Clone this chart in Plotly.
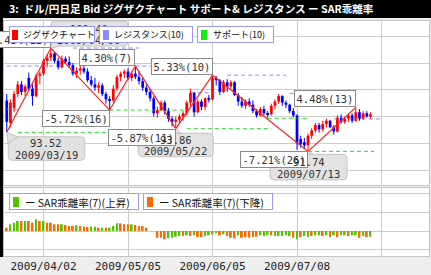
import plotly.graph_objects as go
import pandas as pd

# ---------------- data ----------------
trade_days = [d.strftime("%Y/%m/%d") for d in pd.bdate_range("2009-03-19", "2009-08-26")]


def di(s):
    return trade_days.index(s)


opens = [96.5, 94.4, 95.8, 97.1, 98.0, 97.3, 98.6, 97.6, 96.9, 98.8,
         99.0, 100.2, 100.5, 100.9, 100.2, 99.6, 100.4, 100.1, 99.8, 99.0,
         99.3, 99.5, 99.2, 98.4, 98.0, 97.7, 97.9, 97.1, 96.6, 96.5,
         97.6, 98.7, 99.0, 99.2, 98.6, 99.0, 98.7, 98.3, 97.7, 97.3,
         96.7, 95.3, 95.6, 96.3, 95.5, 94.8, 94.5, 94.7, 95.0, 95.3,
         96.3, 97.2, 95.4, 96.4, 95.9, 96.7, 96.6, 98.6, 98.4, 97.3,
         98.2, 97.8, 98.2, 97.0, 96.4, 96.0, 96.4, 96.1, 95.5, 95.1,
         95.7, 95.3, 95.2, 96.0, 96.4, 96.9, 96.3, 96.1, 95.5, 95.1,
         92.9, 92.6, 92.3, 93.2, 93.7, 94.2, 93.8, 94.3, 94.6, 94.0,
         93.6, 94.9, 94.5, 94.8, 95.1, 94.6, 95.4, 94.8, 95.3, 95.0]
highs = [97.1, 96.6, 97.4, 98.3, 98.3, 98.0, 99.1, 98.0, 99.0, 99.2,
         100.4, 100.8, 101.40, 101.0, 100.5, 100.7, 100.6, 100.6, 100.0, 99.6,
         99.9, 99.8, 99.5, 98.8, 98.6, 98.2, 98.1, 97.3, 96.9, 97.9,
         98.9, 99.2, 99.4, 99.5, 99.2, 99.71, 99.2, 98.6, 98.0, 97.6,
         96.9, 95.9, 96.5, 96.5, 95.8, 95.0, 95.0, 95.2, 95.5, 96.5,
         97.6, 97.3, 96.6, 96.6, 96.8, 97.0, 98.86, 98.8, 98.5, 98.4,
         98.5, 98.4, 98.3, 97.2, 96.8, 96.6, 96.7, 96.5, 95.7, 95.9,
         96.0, 95.5, 96.2, 96.6, 97.1, 97.0, 96.5, 96.2, 95.8, 95.2,
         93.2, 93.0, 93.4, 93.9, 94.4, 94.4, 94.6, 94.8, 94.7, 94.2,
         95.1, 95.2, 95.0, 95.3, 95.3, 95.85, 95.7, 95.5, 95.5, 95.4]
lows = [93.52, 94.0, 95.4, 96.8, 97.0, 96.9, 97.4, 96.0, 96.8, 98.0,
        98.8, 99.6, 100.2, 100.0, 99.4, 99.5, 99.9, 99.6, 98.8, 98.6,
        98.9, 99.0, 98.2, 97.8, 97.4, 97.2, 96.9, 96.2, 95.60, 96.3,
        97.4, 98.3, 98.6, 98.4, 98.3, 98.5, 98.0, 97.4, 97.0, 96.4,
        95.0, 94.9, 95.5, 95.2, 94.5, 94.1, 93.86, 94.4, 94.6, 95.1,
        96.0, 95.0, 95.3, 95.6, 95.6, 96.3, 96.5, 97.9, 97.0, 97.2,
        97.3, 97.6, 96.9, 96.0, 95.8, 95.7, 95.9, 95.3, 94.9, 95.0,
        95.1, 94.9, 95.1, 95.7, 96.2, 96.0, 95.8, 95.3, 94.9, 91.9,
        92.1, 92.0, 91.74, 92.9, 93.5, 93.5, 93.6, 94.0, 93.9, 93.3,
        93.5, 94.3, 94.3, 94.5, 94.4, 94.5, 94.6, 94.7, 94.9, 94.8]
closes = [94.5, 96.3, 97.1, 98.0, 97.3, 97.8, 97.6, 96.9, 98.8, 99.0,
          100.2, 100.5, 100.9, 100.2, 99.6, 100.4, 100.1, 99.8, 99.0, 99.3,
          99.5, 99.2, 98.4, 98.0, 97.7, 97.9, 97.1, 96.6, 96.5, 97.6,
          98.7, 99.0, 99.2, 98.6, 99.0, 98.7, 98.3, 97.7, 97.3, 96.7,
          95.3, 95.6, 96.3, 95.5, 94.8, 94.5, 94.7, 95.0, 95.3, 96.3,
          97.2, 95.4, 96.4, 95.9, 96.7, 96.6, 98.6, 98.4, 97.3, 98.2,
          97.8, 98.2, 97.0, 96.4, 96.0, 96.4, 96.1, 95.5, 95.1, 95.7,
          95.3, 95.2, 96.0, 96.4, 96.9, 96.3, 96.1, 95.5, 95.1, 92.5,
          92.4, 92.3, 93.2, 93.7, 94.2, 93.8, 94.3, 94.6, 94.0, 93.6,
          94.9, 94.5, 94.8, 95.1, 94.6, 95.4, 94.8, 95.3, 95.0, 95.2]

# zigzag turning points
zz_dates = ["2009/03/19", "2009/04/06", "2009/04/28", "2009/05/07",
            "2009/05/22", "2009/06/05", "2009/07/13", "2009/07/30"]
zz_prices = [93.52, 101.40, 95.60, 99.71, 93.86, 98.86, 91.74, 95.85]
zz_labels = ["8.43%(12)", "-5.72%(16)", "4.30%(7)", "-5.87%(11)",
             "5.33%(10)", "-7.21%(26)", "4.48%(13)"]

# resistance (10)
res_start = ["2009/03/19", "2009/04/14", "2009/05/07", "2009/05/28",
             "2009/06/11", "2009/07/06", "2009/07/22"]
res_end = ["2009/04/08", "2009/05/08", "2009/06/05", "2009/06/08",
           "2009/07/03", "2009/07/14", "2009/08/10"]
res_level = [99.72, 101.40, 99.71, 97.22, 98.86, 97.17, 94.77]

# support (10)
sup_start = ["2009/03/19", "2009/03/24", "2009/04/28", "2009/05/27",
             "2009/06/26", "2009/07/13"]
sup_end = ["2009/03/24", "2009/04/28", "2009/05/28", "2009/06/29",
           "2009/07/13", "2009/08/06"]
sup_level = [95.67, 93.52, 95.60, 93.86, 94.83, 91.74]

# SAR deviation (7), %  and direction (1 = rising / 0 = falling)
sar_pct = [0.35, 0.72, 0.89, 1.07, 1.07, 1.07, 1.07, 0.89, 1.25, 1.07,
           1.07, 0.89, 0.89, 0.72, 0.72, 0.72, 0.64, 0.53, 0.53, 0.61,
           0.53, 0.46, 0.43, 0.46, 0.46, 0.35, 0.35, 0.35, 0.35, 0.53,
           0.82, 0.82, 0.72, 0.72, 0.72, 0.64, 0.53, 0.53, 0.35, 0.0,
           0.0, -0.72, -0.72, -0.89, -0.78, -0.72, -0.61, -0.53, -0.53, -0.46,
           -0.53, -0.46, -0.64, -0.64, -0.53, -0.46, -0.35, -0.18, -0.46, -0.35,
           -0.53, -0.72, -0.78, -0.46, -0.72, -0.64, -0.72, -0.64, -0.61, -0.46,
           -0.53, -0.46, -0.46, -0.53, -0.53, -0.53, -0.46, -0.53, -0.72, -0.89,
           -0.64, -0.53, -0.61, -0.53, -0.46, -0.46, -0.53, -0.46, -0.64, -0.46,
           -0.64, -0.46, -0.46, -0.53, -0.46, -0.46, -0.72, -0.53, -0.64, -0.61]
sar_up = [0, 1, 1, 1, 0, 1, 0, 0, 1, 0,
          1, 0, 0, 0, 0, 1, 0, 0, 0, 1,
          0, 0, 0, 1, 1, 0, 1, 0, 1, 1,
          1, 0, 0, 0, 1, 0, 0, 0, 0, 0,
          0, 0, 0, 0, 1, 1, 1, 1, 0, 1,
          0, 1, 0, 0, 1, 1, 1, 1, 0, 1,
          0, 0, 0, 1, 0, 0, 0, 0, 0, 1,
          1, 1, 0, 1, 1, 1, 1, 1, 0, 1,
          0, 1, 1, 0, 1, 1, 0, 1, 0, 1,
          0, 1, 1, 0, 1, 1, 0, 1, 0, 1]

grid_dates = ["2009/04/02", "2009/05/05", "2009/06/05", "2009/07/08", "2009/08/10"]
grid_text = ["2009/04/02", "2009/05/05", "2009/06/05", "2009/07/08", ""]
price_grid = [90, 92.5, 95, 97.5, 100, 102.5]
sar_grid = [-2, 0, 2, 4]

# ---------------- styling helpers ----------------
W, H = 431, 275
ML, MR, MT, MB = 4, 2, 21, 19
PW, PH = W - ML - MR, H - MT - MB
MONO = "DejaVu Sans Mono"
JP = "Noto Sans CJK JP"


def px_x(x):
    return (x - ML) / PW


def px_y(y):
    return (H - MB - y) / PH


RED, BLUE = "#ff0000", "#0000ff"
GREEN_BAR, ORANGE_BAR = "#55c400", "#ff6a00"

fig = go.Figure()

n = len(opens)
xi = list(range(n))


def seg_lists(starts, ends, levels):
    xs, ys = [], []
    for s, e, lv in zip(starts, ends, levels):
        xs += [di(s), di(e), None]
        ys += [lv, lv, None]
    return xs, ys


rx, ry = seg_lists(res_start, res_end, res_level)
fig.add_trace(go.Scatter(x=rx, y=ry, mode="lines", xaxis="x", yaxis="y",
                         line=dict(color="#8c8cf5", width=1, dash="4px,3px")))
sx, sy = seg_lists(sup_start, sup_end, sup_level)
fig.add_trace(go.Scatter(x=sx, y=sy, mode="lines", xaxis="x", yaxis="y",
                         line=dict(color="#22dd22", width=1, dash="4px,3px")))

# candles: wicks and bodies
for up, col in ((True, RED), (False, BLUE)):
    wx, wy = [], []
    bx, bb, bh = [], [], []
    for i in xi:
        if (closes[i] >= opens[i]) == up:
            wx += [i, i, None]
            wy += [lows[i], highs[i], None]
            bx.append(i)
            bb.append(min(opens[i], closes[i]))
            bh.append(max(abs(closes[i] - opens[i]), 0.06))
    fig.add_trace(go.Scatter(x=wx, y=wy, mode="lines", xaxis="x", yaxis="y",
                             line=dict(color=col, width=1)))
    fig.add_trace(go.Bar(x=bx, y=bh, base=bb, width=0.75, xaxis="x", yaxis="y",
                         marker=dict(color=col, line=dict(width=0))))

# zigzag
zx = [di(d) for d in zz_dates]
fig.add_trace(go.Scatter(x=zx, y=zz_prices, mode="lines", xaxis="x", yaxis="y",
                         line=dict(color="#ff2020", width=1.2)))

# SAR bars
for flag, col in ((1, GREEN_BAR), (0, ORANGE_BAR)):
    bx = [i for i in xi if sar_up[i] == flag]
    by = [sar_pct[i] for i in bx]
    fig.add_trace(go.Bar(x=bx, y=by, base=0, width=0.5, xaxis="x2", yaxis="y2",
                         marker=dict(color=col, line=dict(width=0))))

# ---------------- shapes ----------------
shapes = []
# title bar & left strip
shapes.append(dict(type="rect", xref="paper", yref="paper", x0=px_x(0), x1=px_x(W),
                   y0=px_y(18), y1=px_y(0), fillcolor="#000000", line=dict(width=0), layer="above"))
shapes.append(dict(type="rect", xref="paper", yref="paper", x0=px_x(0), x1=px_x(3),
                   y0=px_y(257), y1=px_y(0), fillcolor="#000000", line=dict(width=0), layer="above"))


def rrect(x0, x1, y0, y1, r=4):
    return (f"M{x0+r},{y0} L{x1-r},{y0} Q{x1},{y0} {x1},{y0+r} L{x1},{y1-r} Q{x1},{y1} {x1-r},{y1} "
            f"L{x0+r},{y1} Q{x0},{y1} {x0},{y1-r} L{x0},{y0+r} Q{x0},{y0} {x0+r},{y0} Z")


# callouts: (date, price, box in px relative to the point (y up), pointer path,
#            text xshift, line1 yshift, line2 yshift)
callouts = [
    ("2009/03/19", 93.52, (1.5, 78, -28, -4.5), "M0,0 L1.5,-11 L11,-4.5 Z", 39.5, -11, -22.5),
    ("2009/04/06", 101.40, (0, 77, 2, 27), "M0,0 L1,10 L10,2 Z", 38, 19, 8),
    ("2009/05/22", 93.86, (-37.5, 37.5, -28, -4.5), "M0,0 L-5,-4.5 L5,-4.5 Z", 0, -11, -22.5),
    ("2009/07/13", 91.74, (-38, 39, -28.5, -3), "M0,0 L-5,-3 L5,-3 Z", 0.5, -11, -22.5),
]
for d, p, (bx0, bx1, by0, by1), tip, *_ in callouts:
    for path in (rrect(bx0, bx1, by0, by1), tip):
        shapes.append(dict(type="path", xref="x", yref="y", xsizemode="pixel", ysizemode="pixel",
                           xanchor=di(d), yanchor=p, path=path, fillcolor="#e2e2e2",
                           line=dict(color="#c2c2c2", width=1), layer="above"))

# ---------------- annotations ----------------
ann = []
# percent labels
for k, lab in enumerate(zz_labels, start=1):
    rising = zz_prices[k] > zz_prices[k - 1]
    ann.append(dict(x=di(zz_dates[k]), y=zz_prices[k], xref="x", yref="y", text=lab,
                    showarrow=False, xanchor="right", yanchor="bottom" if rising else "top",
                    font=dict(family=MONO, size=10.5, color="#333333"), bgcolor="#ffffff",
                    bordercolor="#8a8a8a", borderwidth=1, borderpad=1.5))
# callout texts
for d, p, box, tip, xs, y1s, y2s in callouts:
    for txt, ys in ((f"{p:.2f}", y1s), (d, y2s)):
        ann.append(dict(x=di(d), y=p, xref="x", yref="y", text=txt, showarrow=False,
                        xshift=xs, yshift=ys, xanchor="center", yanchor="middle",
                        font=dict(family=MONO, size=10.5, color="#333333")))

# legend boxes (box x0, x1, y0, y1, square x0, text x, color, label, font size)
legend_items = [
    (9.3, 95, 26, 43.3, 12.3, 20.7, "#ff0000", "ジグザクチャート", 9),
    (99, 193, 26, 43.3, 103.3, 111.7, "#8c8cf5", "レジスタンス(10)", 9),
    (197, 274, 26, 43.3, 201.3, 210.7, "#11ee11", "サポート(10)", 9),
    (9.3, 139.3, 193.3, 210.7, 13.3, 22.7, GREEN_BAR, "ー SAR乖離率(7)(上昇)", 10.5),
    (143.3, 273.3, 193.3, 210.7, 147.3, 156.7, ORANGE_BAR, "ー SAR乖離率(7)(下降)", 10.5),
]
for x0, x1, y0, y1, sq, tx, col, lab, fs in legend_items:
    ann.append(dict(x=px_x(x0), y=px_y(y0), xref="paper", yref="paper", xanchor="left",
                    yanchor="top", text=" ", showarrow=False, width=x1 - x0 - 2,
                    height=y1 - y0 - 2, borderpad=0, bgcolor="#ffffff",
                    bordercolor="#9a9af2", borderwidth=1))
    ym = (y0 + y1) / 2
    ann.append(dict(x=px_x(sq), y=px_y(ym), xref="paper", yref="paper", xanchor="left",
                    yanchor="middle", text=" ", showarrow=False, width=6, height=10,
                    borderpad=0, borderwidth=0, bgcolor=col))
    ann.append(dict(x=px_x(tx), y=px_y(ym), xref="paper", yref="paper", xanchor="left",
                    yanchor="middle", text=lab, showarrow=False,
                    font=dict(family=JP, size=fs, color="#111111")))

# title
ann.append(dict(x=px_x(7), y=px_y(9), xref="paper", yref="paper", xanchor="left",
                yanchor="middle", showarrow=False,
                text="<b>3:  ドル/円日足 Bid ジグザクチャート サポート& レジスタンス ー SAR乖離率</b>",
                font=dict(family=JP, size=10.6, color="#ffffff")))

xrange = [(ML - 6.76) / 3.674, (W - MR - 6.76) / 3.674]
axis_common = dict(showgrid=True, gridcolor="#cccccc", gridwidth=1, showline=True, mirror=True,
                   linecolor="#c4c4c4", linewidth=1, zeroline=False, ticks="", automargin=False)

fig.update_layout(
    width=W, height=H, margin=dict(l=ML, r=MR, t=MT, b=MB, pad=0),
    paper_bgcolor="#eeeeee", plot_bgcolor="#ffffff", showlegend=False, barmode="overlay",
    xaxis=dict(domain=[0, 1], range=xrange, anchor="y", tickvals=[di(d) for d in grid_dates],
               showticklabels=False, **axis_common),
    yaxis=dict(domain=[px_y(185), 1], range=[100 - (185 - 63) / 10.7, 100 + (63 - MT) / 10.7],
               anchor="x", tickvals=price_grid, showticklabels=False, **axis_common),
    xaxis2=dict(domain=[0, 1], range=xrange, anchor="y2", tickvals=[di(d) for d in grid_dates],
                ticktext=grid_text, tickfont=dict(family=MONO, size=11, color="#222222"),
                **axis_common),
    yaxis2=dict(domain=[0, px_y(188)], range=[-(H - MB - 231) / 9.35, (231 - 188) / 9.35],
                anchor="x2", tickvals=sar_grid, showticklabels=False, **axis_common),
    shapes=shapes, annotations=ann,
)

fig.write_html("out.html")
